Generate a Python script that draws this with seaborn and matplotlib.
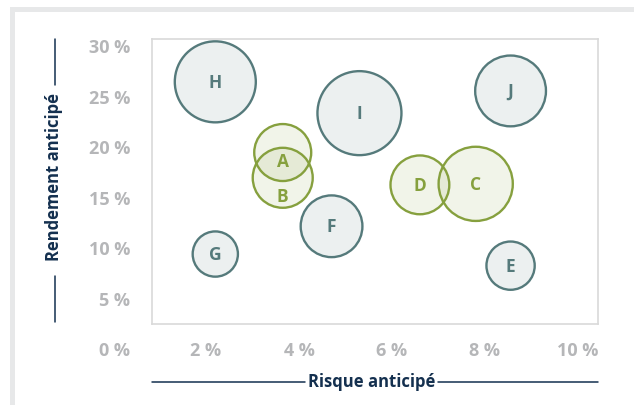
import matplotlib
matplotlib.use("Agg")
import matplotlib.pyplot as plt
from matplotlib.patches import Rectangle
from matplotlib.lines import Line2D
from matplotlib.colors import to_rgba
import seaborn as sns
import pandas as pd

# ---- data ----
labels = ["A", "B", "C", "D", "E", "F", "G", "H", "I", "J"]
risk = [3.65, 3.65, 7.8, 6.6, 8.55, 4.7, 2.2, 2.2, 5.3, 8.55]        # Risque anticipé (%)
ret = [19.6, 17.1, 16.5, 16.4, 8.4, 12.3, 9.55, 26.6, 23.5, 25.7]     # Rendement anticipé (%)
weight = [46, 51, 78, 49, 33, 54, 29, 93, 100, 71]                   # taille relative de la bulle
group = ["vert", "vert", "vert", "vert", "bleu", "bleu", "bleu", "bleu", "bleu", "bleu"]
y_ticks = [0, 5, 10, 15, 20, 25, 30]
x_ticks = [2, 4, 6, 8, 10]
x_title = "Risque anticipé"
y_title = "Rendement anticipé"

df = pd.DataFrame({"label": labels, "risk": risk, "ret": ret,
                   "weight": weight, "group": group})

TEAL = "#557a7b"
GREEN = "#86a03e"
NAVY = "#14304f"
TICKC = "#b5b6b8"
palette = {"bleu": TEAL, "vert": GREEN}

sns.set_theme(style="white")
plt.rcParams["font.family"] = ["Open Sans", "DejaVu Sans"]

W, H = 634, 406
fig = plt.figure(figsize=(W / 100, H / 100), dpi=100)

def fx(px):
    return px / W

def fy(py):
    return 1 - py / H

# outer frame bands
fig.add_artist(Rectangle((fx(10), fy(13)), 1, 5 / H, transform=fig.transFigure,
                         facecolor="#e7e8e9", edgecolor="none"))
fig.add_artist(Rectangle((fx(10), 0), 5 / W, fy(8), transform=fig.transFigure,
                         facecolor="#e7e8e9", edgecolor="none"))

left, right, top, bottom = 152, 598, 40, 325
ax = fig.add_axes([fx(left), fy(bottom), (right - left) / W, (bottom - top) / H])

sns.scatterplot(data=df, x="risk", y="ret", hue="group", palette=palette,
                size="weight", sizes=(0, 3658), size_norm=(0, 100),
                legend=False, ax=ax, linewidth=1.7, zorder=3)

coll = ax.collections[0]
cols = [to_rgba(palette[g]) for g in df["group"]]
coll.set_edgecolors(cols)
coll.set_facecolors([(c[0], c[1], c[2], 0.11) for c in cols])
coll.set_linewidth(1.7)

# bubble letters
label_offsets = {"A": -6, "B": -13}
for _, r in df.iterrows():
    ax.annotate(r["label"], (r["risk"], r["ret"]),
                xytext=(0, label_offsets.get(r["label"], 0)), textcoords="offset points",
                ha="center", va="center", fontsize=12.5, fontweight="bold",
                color=palette[r["group"]], zorder=5)

# axes limits: 0 % at px 113 (x) / 351.5 (y)
ax.set_xlim((left - 113) / 46.5, (right - 113) / 46.5)
ax.set_ylim((351.5 - bottom) / 10.1, (351.5 - top) / 10.1)
ax.set_xticks([])
ax.set_yticks([])
ax.set_xlabel("")
ax.set_ylabel("")
for s in ax.spines.values():
    s.set_color("#d9d9d9")
    s.set_linewidth(1.2)

# tick labels
for v in y_ticks:
    ax.text(0.37, v, f"{v} %", ha="right", va="center", fontsize=13,
            fontweight="bold", color=TICKC, clip_on=False)
for v in x_ticks:
    ax.text(v, 0, f"{v} %", ha="center", va="center", fontsize=13,
            fontweight="bold", color=TICKC, clip_on=False)

# axis titles with rules
fig.text(fx(372), fy(382), x_title, ha="center", va="center", fontsize=12,
         fontweight="bold", color=NAVY)
fig.add_artist(Line2D([fx(152), fx(305)], [fy(382.5), fy(382.5)], color=NAVY, lw=1.1))
fig.add_artist(Line2D([fx(438), fx(598)], [fy(382.5), fy(382.5)], color=NAVY, lw=1.1))

fig.text(fx(54), fy(177), y_title, ha="center", va="center", rotation=90,
         fontsize=12, fontweight="bold", color=NAVY)
fig.add_artist(Line2D([fx(54.5), fx(54.5)], [fy(40), fy(86)], color=NAVY, lw=1.1))
fig.add_artist(Line2D([fx(54.5), fx(54.5)], [fy(277), fy(323)], color=NAVY, lw=1.1))

fig.savefig("out.png", dpi=100, facecolor="white")
